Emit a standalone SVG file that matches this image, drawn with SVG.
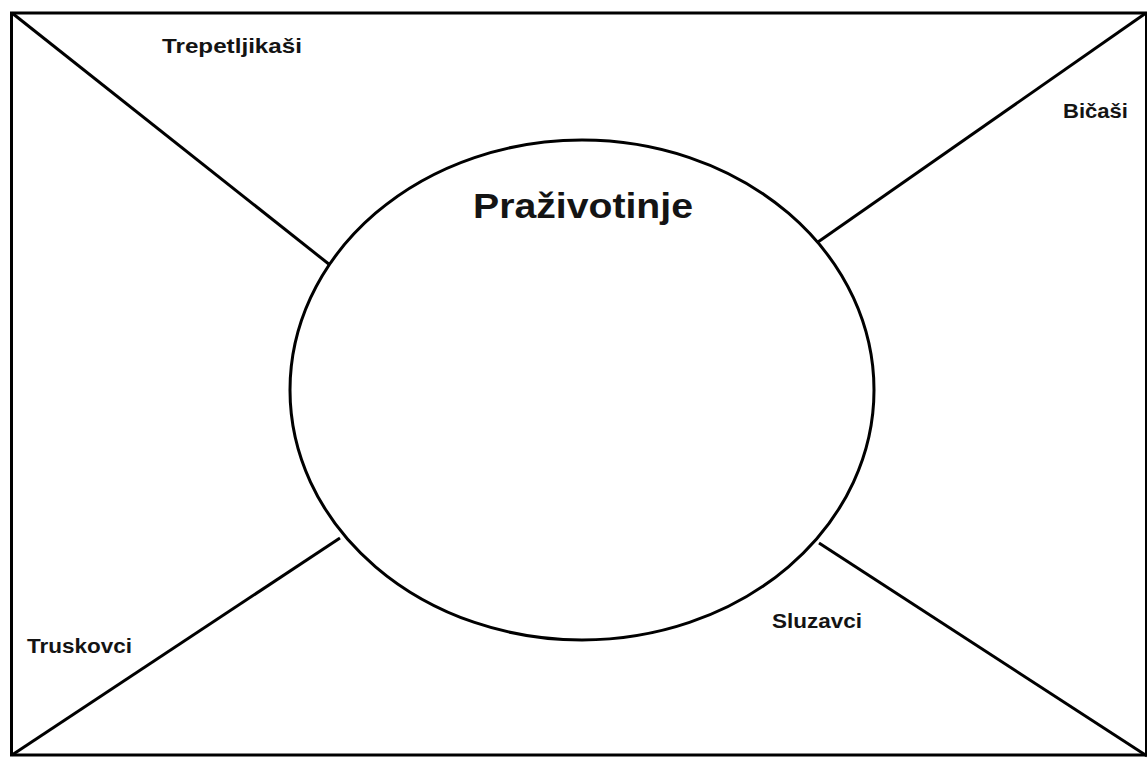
<svg xmlns="http://www.w3.org/2000/svg" width="1147" height="758" viewBox="0 0 1147 758">
<style>
.ln{stroke:#000;stroke-width:3;fill:none}
.lbl{font-family:"Liberation Sans",Arial,sans-serif;font-weight:bold;fill:#141414;font-size:20px}
.title{font-family:"Liberation Sans",Arial,sans-serif;font-weight:bold;fill:#141414;font-size:35px}
</style>
<rect x="0" y="0" width="1147" height="758" fill="#fff"/>
<g id="frame"><rect class="ln" x="11.5" y="13" width="1135" height="742"/></g>
<g id="connectors">
<line class="ln" x1="12" y1="13" x2="330" y2="265"/>
<line class="ln" x1="1146" y1="13" x2="818" y2="242"/>
<line class="ln" x1="12" y1="755" x2="340" y2="538"/>
<line class="ln" x1="819" y1="543" x2="1147" y2="756"/>
</g>
<g id="center">
<ellipse class="ln" cx="582" cy="390" rx="292" ry="250" stroke-width="2.5"/>
<text class="title" x="473" y="218" textLength="220" lengthAdjust="spacingAndGlyphs">Praživotinje</text>
</g>
<g id="n1"><text class="lbl" x="162" y="53" textLength="140" lengthAdjust="spacingAndGlyphs">Trepetljikaši</text></g>
<g id="n2"><text class="lbl" x="1063" y="118" textLength="65" lengthAdjust="spacingAndGlyphs">Bičaši</text></g>
<g id="n3"><text class="lbl" x="27" y="653" textLength="105" lengthAdjust="spacingAndGlyphs">Truskovci</text></g>
<g id="n4"><text class="lbl" x="772" y="628" textLength="90" lengthAdjust="spacingAndGlyphs">Sluzavci</text></g>
</svg>
